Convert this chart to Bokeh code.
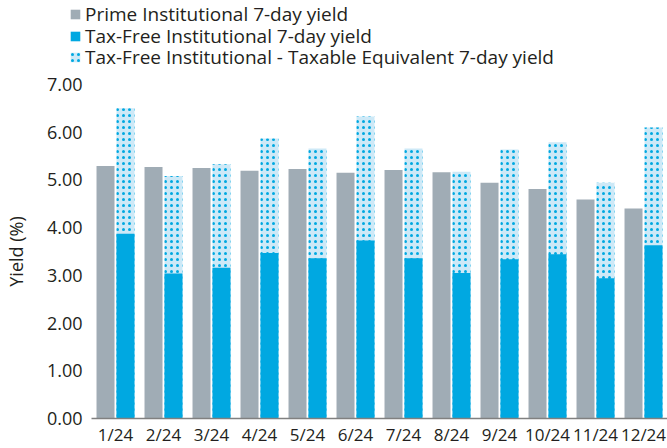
from bokeh.plotting import figure
from bokeh.layouts import column
from bokeh.models import FactorRange, Legend, LegendItem, FixedTicker, ColumnDataSource, PrintfTickFormatter
from bokeh.transform import dodge
from bokeh.embed import file_html
from bokeh.resources import INLINE

months = ["1/24", "2/24", "3/24", "4/24", "5/24", "6/24",
          "7/24", "8/24", "9/24", "10/24", "11/24", "12/24"]
prime = [5.29, 5.27, 5.25, 5.19, 5.23, 5.15, 5.21, 5.16, 4.94, 4.81, 4.59, 4.40]
taxfree = [3.87, 3.04, 3.16, 3.47, 3.36, 3.73, 3.36, 3.05, 3.34, 3.44, 2.94, 3.63]
taxeq = [6.50, 5.08, 5.33, 5.87, 5.66, 6.33, 5.66, 5.17, 5.64, 5.79, 4.94, 6.10]
yticks = [0, 1, 2, 3, 4, 5, 6, 7]
series_labels = ["Prime Institutional 7-day yield",
                 "Tax-Free Institutional 7-day yield",
                 "Tax-Free Institutional - Taxable Equivalent 7-day yield"]

GRAY = "#a0acb5"
BLUE = "#00a8e1"
LIGHT = "#cde9f7"
TXT = "#231f20"
FONT = "Open Sans"
HATCH = dict(hatch_pattern="dot", hatch_color=BLUE, hatch_scale=6, hatch_weight=3.5)

src = ColumnDataSource(dict(month=months, prime=prime, taxfree=taxfree, taxeq=taxeq))

# ---- main chart ----
p = figure(x_range=FactorRange(*months), y_range=(0, 7), width=667, height=378,
           output_backend="svg", toolbar_location=None,
           min_border_left=91, min_border_right=0, min_border_top=14, min_border_bottom=28)
p.frame_align = False

p.vbar(x=dodge("month", -0.208, range=p.x_range), top="prime", width=0.375,
       source=src, fill_color=GRAY, line_color=None)
p.vbar(x=dodge("month", 0.208, range=p.x_range), top="taxeq", width=0.375,
       source=src, fill_color=LIGHT, line_color=None, **HATCH)
p.vbar(x=dodge("month", 0.208, range=p.x_range), top="taxfree", width=0.375,
       source=src, fill_color=BLUE, line_color=None)

p.xgrid.visible = False
p.ygrid.visible = False
p.outline_line_color = None

p.xaxis.axis_line_color = "#808080"
p.xaxis.axis_line_width = 1.5
p.xaxis.major_tick_line_color = None
p.xaxis.minor_tick_line_color = None
p.xaxis.major_tick_out = 0
p.xaxis.major_tick_in = 0
p.xaxis.major_label_standoff = 4
p.xaxis.major_label_text_font = FONT
p.xaxis.major_label_text_font_size = "17px"
p.xaxis.major_label_text_color = TXT

p.yaxis.ticker = FixedTicker(ticks=yticks)
p.yaxis.formatter = PrintfTickFormatter(format="%.2f")
p.yaxis.axis_line_color = None
p.yaxis.major_tick_line_color = None
p.yaxis.minor_tick_line_color = None
p.yaxis.major_tick_out = 0
p.yaxis.major_tick_in = 0
p.yaxis.major_label_standoff = 9
p.yaxis.major_label_text_font = FONT
p.yaxis.major_label_text_font_size = "18px"
p.yaxis.major_label_text_color = TXT
p.yaxis.axis_label = "Yield (%)"
p.yaxis.axis_label_text_font = FONT
p.yaxis.axis_label_text_font_style = "normal"
p.yaxis.axis_label_text_font_size = "18px"
p.yaxis.axis_label_text_color = TXT
p.yaxis.axis_label_standoff = 16

# ---- legend strip (same data, drawn out of view so only the legend shows) ----
lg = figure(width=667, height=70, x_range=FactorRange(*months), y_range=(100, 101),
            output_backend="svg", toolbar_location=None,
            x_axis_location=None, y_axis_location=None,
            min_border_left=0, min_border_right=0, min_border_top=0, min_border_bottom=0)
lg.frame_align = False
lg.grid.visible = False
lg.outline_line_color = None
k1 = lg.vbar(x="month", top="prime", width=0.375, source=src, fill_color=GRAY, line_color=None)
k2 = lg.vbar(x="month", top="taxfree", width=0.375, source=src, fill_color=BLUE, line_color=None)
k3 = lg.vbar(x="month", top="taxeq", width=0.375, source=src, fill_color=LIGHT, line_color=None, **HATCH)

for label, rend, ypos in zip(series_labels, [k1, k2, k3], [43, 21, 0]):
    lgd = Legend(items=[LegendItem(label=label, renderers=[rend])],
                 location=(69, ypos), glyph_width=12, glyph_height=12, label_height=14,
                 padding=0, margin=0, border_line_color=None, background_fill_alpha=0,
                 label_text_font=FONT, label_text_font_size="19px", label_text_color=TXT,
                 label_standoff=4)
    lg.add_layout(lgd)

layout = column(lg, p, spacing=0)
open("out.html", "w").write(file_html(layout, INLINE))
